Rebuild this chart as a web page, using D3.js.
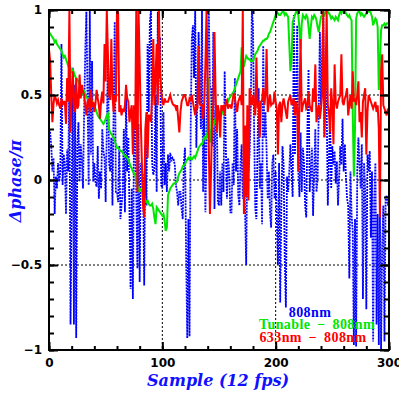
<!DOCTYPE html>
<html>
<head>
<meta charset="utf-8">
<script src="https://cdn.jsdelivr.net/npm/d3@7"></script>
<style>
  body { margin: 0; background: #fff; }
  svg { display: block; }
</style>
</head>
<body>
<div id="chart"></div>
<script>
// phase difference per sample
var green = [0.87,0.86,0.85,0.84,0.83,0.81,0.82,0.80,0.79,0.78,
0.77,0.76,0.74,0.72,0.73,0.71,0.69,0.67,0.68,0.66,
0.64,0.65,0.63,0.61,0.60,0.59,0.58,0.56,0.55,0.53,
0.51,0.52,0.50,0.49,0.48,0.47,0.46,0.45,0.46,0.44,
0.43,0.42,0.40,0.38,0.37,0.36,0.35,0.34,0.33,0.34,
0.36,0.38,0.39,0.30,0.28,0.27,0.26,0.25,0.23,0.21,
0.19,0.19,0.18,0.17,0.17,0.16,0.15,0.14,0.14,0.13,
0.12,0.10,0.08,0.07,0.05,0.04,0.03,0.00,-0.03,-0.07,
-0.05,-0.06,-0.07,-0.09,-0.10,-0.12,-0.13,-0.12,-0.14,-0.15,
-0.15,-0.14,-0.17,-0.22,-0.26,-0.16,-0.17,-0.18,-0.19,-0.20,
-0.21,-0.20,-0.24,-0.30,-0.28,-0.09,-0.07,-0.05,-0.04,-0.03,
-0.02,-0.02,-0.01,-0.01,0.02,0.04,0.05,0.06,0.08,0.09,
0.09,0.11,0.12,0.13,0.12,0.13,0.12,0.13,0.14,0.13,
0.15,0.17,0.19,0.20,0.21,0.21,0.23,0.25,0.24,0.26,
0.28,0.60,0.22,0.29,0.30,0.32,0.34,0.36,0.37,0.38,
0.38,0.39,0.38,0.40,0.42,0.43,0.44,0.45,0.46,0.48,
0.49,0.50,0.51,0.52,0.54,0.56,0.58,0.60,0.62,0.64,
0.78,0.66,0.67,0.70,0.73,0.72,0.71,0.71,0.70,0.70,
0.70,0.72,0.74,0.75,0.76,0.78,0.79,0.80,0.81,0.82,
0.82,0.83,0.83,0.84,0.86,0.87,0.89,0.91,0.93,0.95,
0.97,0.99,0.98,0.97,0.97,0.98,0.99,0.99,0.97,0.98,
0.97,0.96,0.80,0.64,0.70,0.93,0.95,0.97,0.99,0.99,
0.97,0.89,0.77,0.92,0.97,0.96,0.95,0.97,0.96,0.90,
0.83,0.90,0.96,0.95,0.97,0.96,0.94,0.90,0.87,0.92,
0.96,0.97,0.98,0.97,0.99,1.00,0.99,0.98,0.97,0.95,
0.96,0.95,0.94,0.96,0.95,0.94,0.97,0.99,0.98,1.00,
0.99,1.00,0.98,0.97,0.96,0.97,0.95,0.94,0.40,0.02,
0.30,0.95,0.98,0.99,0.99,0.97,0.98,0.97,0.96,0.97,
0.98,0.99,0.99,1.00,0.98,0.96,0.91,0.93,0.95,0.94,
0.90,0.53,0.70,0.88,0.91,0.91,0.92,0.91,0.92,0.92,
0.93];

var red = [0.77,0.70,0.50,0.34,0.45,0.50,0.48,0.45,0.47,0.44,
0.42,0.48,0.44,0.46,0.46,0.33,0.60,0.46,1.00,0.28,
0.50,0.64,0.44,0.40,0.60,0.42,0.44,0.62,0.48,0.56,
0.52,0.50,0.44,0.38,0.46,0.47,0.40,0.53,0.43,0.46,
0.40,0.45,0.53,0.48,0.44,0.36,0.47,0.52,0.45,0.80,
0.58,1.00,0.74,0.50,0.47,0.83,0.50,0.40,0.50,0.46,
1.00,0.98,0.40,0.44,0.38,0.42,0.40,0.44,0.56,0.48,
0.46,0.34,0.40,0.44,0.15,0.44,0.30,1.00,-0.07,1.00,
0.69,0.34,0.09,-0.15,-0.22,0.30,0.40,0.13,0.38,0.38,
0.34,0.50,0.83,0.44,0.60,0.80,0.44,1.00,0.64,0.53,
0.46,0.44,0.48,0.46,0.46,0.46,0.48,0.50,0.47,0.45,
0.44,0.44,0.42,0.44,0.36,0.28,0.40,0.46,0.48,0.50,
0.50,0.47,0.44,0.44,0.48,0.47,0.50,0.46,0.42,0.38,
0.44,0.42,0.79,0.45,0.44,0.44,0.36,0.46,0.68,1.00,
0.55,0.20,-0.20,0.05,0.40,0.44,0.87,0.50,0.28,0.44,
0.40,0.25,0.44,0.42,0.44,0.38,0.46,0.47,0.42,0.44,
0.44,0.42,0.47,0.51,0.48,0.44,0.40,0.46,0.48,0.50,
0.44,1.00,-0.20,0.32,-0.10,0.44,-0.12,0.54,0.46,0.44,
0.50,0.46,0.38,0.72,0.44,0.45,0.25,0.46,0.47,0.54,
0.44,0.50,0.77,0.40,0.45,0.50,0.44,0.45,0.45,0.52,
0.46,0.42,0.15,0.44,0.46,0.34,0.44,0.48,0.44,0.40,
0.36,0.46,0.48,0.50,0.44,0.46,0.48,0.38,0.46,0.42,
0.05,0.48,0.83,0.40,0.44,0.46,0.48,0.42,0.43,0.52,
0.44,0.42,0.40,0.54,0.46,0.68,0.34,0.40,0.44,0.36,
0.42,0.50,1.00,0.25,0.60,1.00,0.44,0.40,0.28,0.54,
0.44,0.21,0.68,0.46,0.42,0.46,0.48,0.50,0.74,0.46,
0.44,0.48,0.50,0.54,0.38,0.44,0.50,0.42,0.64,0.46,
0.48,0.44,0.50,0.58,0.34,0.40,0.25,0.46,0.50,0.54,
0.15,0.40,0.50,0.48,0.46,0.44,0.42,0.44,0.46,0.40,
0.44,0.30,-0.22,0.64,0.74,0.44,0.42,0.40,0.38,0.42,
0.40];

var blue = [0.30,0.28,0.20,0.05,0.13,-0.20,0.02,-0.05,0.10,-0.01,
0.05,0.80,-0.03,0.15,0.10,-0.20,0.18,0.05,0.64,-0.85,
-0.15,0.66,-0.85,0.56,-0.93,0.20,0.34,-0.01,0.21,0.12,
-0.05,0.40,0.76,0.99,0.50,-0.03,1.00,0.15,0.70,-0.01,
0.10,-0.01,-0.04,0.20,-0.11,0.05,-0.05,0.30,0.17,0.13,
-0.13,0.30,0.74,0.10,0.05,0.25,-0.15,0.40,0.93,-0.07,
-0.07,-0.13,0.20,-0.23,-0.15,-0.07,0.30,-0.19,0.48,0.05,
0.25,-0.17,-0.64,-0.05,-0.70,0.28,0.30,-0.07,-0.52,0.33,
-0.60,0.10,0.06,0.02,-0.62,0.20,-0.15,0.80,0.40,0.93,
1.00,0.10,0.03,0.06,0.50,-0.07,0.99,0.60,0.84,-0.03,
-0.05,0.40,-0.03,0.10,-0.07,0.15,0.05,0.16,0.11,0.13,
0.12,0.09,-0.03,-0.07,-0.15,-0.07,-0.07,-0.17,-0.23,0.10,
0.19,-0.44,-0.93,-0.23,-0.92,0.30,0.83,0.91,0.60,1.00,
0.19,0.50,0.87,0.64,0.30,1.00,-0.07,0.44,-0.19,0.20,
0.74,1.00,0.55,0.54,0.20,0.87,-0.17,0.40,0.42,-0.13,
-0.15,0.05,-0.15,0.10,-0.07,0.64,0.20,-0.11,0.13,0.05,
-0.19,-0.19,0.10,-0.03,0.60,0.05,0.30,-0.09,-0.15,0.10,
0.21,-0.11,0.05,-0.19,-0.50,0.20,0.05,0.15,0.40,1.00,
0.91,0.30,-0.17,-0.23,0.20,0.54,-0.05,0.10,-0.26,0.79,
0.25,0.40,0.17,-0.11,0.05,-0.19,-0.28,0.10,0.15,-0.11,
0.05,-0.23,-0.50,0.10,-0.72,-0.15,0.20,0.09,-0.46,-0.75,
0.02,-0.07,0.05,0.21,0.05,-0.10,0.97,0.15,0.50,0.91,
0.05,-0.10,0.28,-0.07,0.19,0.10,-0.15,-0.22,0.30,0.65,
-0.07,0.05,0.19,-0.21,0.05,0.30,-0.07,0.01,0.40,0.87,
0.44,0.70,1.00,0.25,0.60,0.44,-0.15,0.10,0.40,-0.05,
0.20,0.09,0.17,-0.02,0.11,-0.15,0.01,0.20,0.09,0.36,
0.05,0.21,0.02,-0.11,-0.15,-0.58,0.05,-0.21,-0.30,-0.97,
-0.23,-0.98,0.05,0.25,0.09,-0.05,0.21,-0.70,0.10,-0.07,
-0.76,0.15,0.05,0.17,-0.34,0.05,-0.95,-0.11,0.10,-0.85,
-0.20,-0.97,-0.17,-1.00,-0.40,-0.15,-0.95,-0.11,-0.09,-0.15,
-0.12];

var xTicks = [0, 100, 200, 300];
var xTickLabels = ["0", "100", "200", "300"];
var yTicks = [-1, -0.5, 0, 0.5, 1];
var yTickLabels = ["\u22121", "\u22120.5", "0", "0.5", "1"];
var legendLabels = ["808nm", "Tunable \u2212 808nm", "633nm \u2212 808nm"];

var pLeft = 49, pRight = 389, pTop = 10, pBottom = 350;

var x = d3.scaleLinear().domain([0, 300]).range([pLeft, pRight]);
var y = d3.scaleLinear().domain([-1, 1]).range([pBottom, pTop]);

var svg = d3.select("#chart").append("svg")
    .attr("width", 399)
    .attr("height", 399)
    .style("background-color", "#fff");

svg.append("clipPath").attr("id", "plot")
  .append("rect")
    .attr("x", pLeft).attr("y", pTop)
    .attr("width", pRight - pLeft).attr("height", pBottom - pTop);

// dotted grid
svg.append("g").selectAll("line")
    .data([100, 200])
    .enter().append("line")
    .attr("x1", function(d) { return x(d); })
    .attr("x2", function(d) { return x(d); })
    .attr("y1", pTop).attr("y2", pBottom)
    .attr("stroke", "#000").attr("stroke-width", 1)
    .attr("stroke-dasharray", "2,2");

svg.append("g").selectAll("line")
    .data([-0.5, 0, 0.5])
    .enter().append("line")
    .attr("y1", function(d) { return y(d); })
    .attr("y2", function(d) { return y(d); })
    .attr("x1", pLeft).attr("x2", pRight)
    .attr("stroke", "#000").attr("stroke-width", 1)
    .attr("stroke-dasharray", "2,2");

var line = d3.line()
    .x(function(d, i) { return x(i); })
    .y(function(d) { return y(d); });

var series = [
  { data: blue, color: "#0000ff", width: 1.8, dash: "2,1" },
  { data: green, color: "#00e600", width: 2, dash: null },
  { data: red, color: "#ff0000", width: 2, dash: null }
];

series.forEach(function(s) {
  svg.append("path")
      .datum(s.data)
      .attr("clip-path", "url(#plot)")
      .attr("fill", "none")
      .attr("stroke", s.color)
      .attr("stroke-width", s.width)
      .attr("stroke-dasharray", s.dash)
      .attr("stroke-linejoin", "miter")
      .attr("d", line);
});

// ticks on all four sides, pointing in
var xMinor = d3.range(0, 301, 20);
var yMinor = d3.range(-10, 11).map(function(d) { return d / 10; });

function ticks(axis, tx, ty, vals, size) {
  var g = svg.append("g")
      .attr("transform", "translate(" + tx + "," + ty + ")")
      .call(axis.tickValues(vals).tickSize(-size).tickFormat(""));
  g.select(".domain").remove();
  g.selectAll("line").attr("stroke-width", 2);
}
ticks(d3.axisBottom(x), 0, pBottom, xMinor, 4);
ticks(d3.axisBottom(x), 0, pBottom, xTicks, 8);
ticks(d3.axisTop(x), 0, pTop, xMinor, 4);
ticks(d3.axisTop(x), 0, pTop, xTicks, 8);
ticks(d3.axisLeft(y), pLeft, 0, yMinor, 5);
ticks(d3.axisLeft(y), pLeft, 0, yTicks, 9);
ticks(d3.axisRight(y), pRight, 0, yMinor, 5);
ticks(d3.axisRight(y), pRight, 0, yTicks, 9);

svg.append("rect")
    .attr("x", pLeft).attr("y", pTop)
    .attr("width", pRight - pLeft).attr("height", pBottom - pTop)
    .attr("fill", "none").attr("stroke", "#000").attr("stroke-width", 2);

// labels
var xLab = svg.append("g")
    .attr("transform", "translate(0," + pBottom + ")")
    .call(d3.axisBottom(x).tickValues(xTicks).tickSize(0).tickPadding(8)
      .tickFormat(function(d, i) { return xTickLabels[i]; }));
xLab.select(".domain").remove();

var yLab = svg.append("g")
    .attr("transform", "translate(" + pLeft + ",0)")
    .call(d3.axisLeft(y).tickValues(yTicks).tickSize(0).tickPadding(7)
      .tickFormat(function(d, i) { return yTickLabels[i]; }));
yLab.select(".domain").remove();

svg.selectAll(".tick text")
    .attr("fill", "#000")
    .style("font-family", "'DejaVu Sans'")
    .style("font-weight", "bold")
    .style("font-size", "12px");

svg.append("text")
    .attr("x", 218).attr("y", 386)
    .attr("text-anchor", "middle")
    .attr("fill", "#1010ff")
    .style("font-family", "'DejaVu Serif'")
    .style("font-style", "italic")
    .style("font-weight", "bold")
    .style("font-size", "16px")
    .text("Sample (12 fps)");

svg.append("text")
    .attr("transform", "translate(21,181)rotate(-90)")
    .attr("text-anchor", "middle")
    .attr("fill", "#1010ff")
    .style("font-family", "'DejaVu Serif'")
    .style("font-style", "italic")
    .style("font-weight", "bold")
    .style("font-size", "16px")
    .text("\u0394phase/\u03c0");

// legend
var legendPos = [[310, 317], [317, 329], [313, 341.5]];
var legendColors = ["#0000ff", "#00e600", "#ff0000"];
svg.append("g").selectAll("text")
    .data(legendLabels)
    .enter().append("text")
    .attr("x", function(d, i) { return legendPos[i][0]; })
    .attr("y", function(d, i) { return legendPos[i][1]; })
    .attr("text-anchor", "middle")
    .attr("fill", function(d, i) { return legendColors[i]; })
    .style("font-family", "'Liberation Serif'")
    .style("font-weight", "bold")
    .style("font-size", "14px")
    .style("letter-spacing", "0.4px")
    .style("word-spacing", "3px")
    .text(function(d) { return d; });
</script>
</body>
</html>
